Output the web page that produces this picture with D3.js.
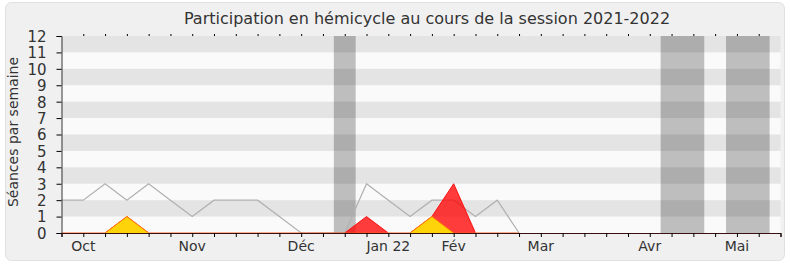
<!DOCTYPE html>
<html>
<head>
<meta charset="utf-8">
<script src="https://cdn.jsdelivr.net/npm/d3@7"></script>
<style>
  body { margin: 0; background: #fff; }
  text { font-family: "DejaVu Sans", sans-serif; fill: #333; }
</style>
</head>
<body>
<div id="chart"></div>
<script>
// Participation chart, one point per week of the session

var title = "Participation en hémicycle au cours de la session 2021-2022";
var yLabel = "Séances par semaine";

// week index of each month label
var monthLabels = ["Oct", "Nov", "Déc", "Jan 22", "Fév", "Mar", "Avr", "Mai"];
var monthWeeks = [1, 6, 11, 15, 18, 22, 27, 31];

// sessions held in the hemicycle (grey line), from week 0
var totalSessions = [2, 2, 3, 2, 3, 2, 1, 2, 2, 2, 1, 0, 0, 0, 3, 2, 1, 2, 2, 1, 2, 0];
// presences (red area)
var presences = [0, 0, 0, 1, 0, 0, 0, 0, 0, 0, 0, 0, 0, 0, 1, 0, 0, 1, 3, 0, 0, 0];
// interventions (yellow area)
var interventions = [0, 0, 0, 1, 0, 0, 0, 0, 0, 0, 0, 0, 0, 0, 0, 0, 0, 1, 0, 0, 0, 0];

// parliamentary holidays, [start, end] in weeks
var holidays = [[12.5, 13.5], [27.5, 29.5], [30.5, 32.5]];

var nWeeks = 33;
var yMax = 12;

var W = 790, H = 267;
var margin = {top: 36, right: 9.5, bottom: 34, left: 61.5},
  width = W - margin.left - margin.right,
  height = H - margin.top - margin.bottom;

var x = d3.scaleLinear().domain([0, nWeeks]).range([0, width]);
var y = d3.scaleLinear().domain([0, yMax]).range([height, 0]);

var svg = d3.select("#chart").append("svg")
  .attr("width", W)
  .attr("height", H);

// frame
svg.append("rect")
  .attr("x", 5.5).attr("y", 2.5)
  .attr("width", 779).attr("height", 258)
  .attr("rx", 6)
  .style("fill", "#f0f0f0")
  .attr("stroke", "#e0e0e0");

svg.append("text")
  .attr("x", 427).attr("y", 24)
  .style("text-anchor", "middle")
  .style("font-size", "16px")
  .text(title);

var g = svg.append("g")
  .attr("transform", "translate(" + margin.left + "," + margin.top + ")");

// keeps the area outlines off the baseline
g.append("clipPath")
  .attr("id", "above-zero")
  .append("rect")
    .attr("x", -2)
    .attr("y", -2)
    .attr("width", width + 4)
    .attr("height", height + 1.4);

g.append("rect")
  .attr("width", width)
  .attr("height", height)
  .style("fill", "#fafafa");

g.selectAll(".holiday")
  .data(holidays)
  .enter().append("rect")
    .attr("class", "holiday")
    .attr("x", d => x(d[0]))
    .attr("width", d => x(d[1]) - x(d[0]))
    .attr("y", 0)
    .attr("height", height)
    .style("fill", "#bebebe");

// dark stripes every other unit
g.selectAll(".stripe")
  .data(d3.range(1, yMax, 2))
  .enter().append("rect")
    .attr("class", "stripe")
    .attr("x", 0)
    .attr("width", width)
    .attr("y", d => y(d + 1))
    .attr("height", d => y(d) - y(d + 1))
    .style("fill", "rgba(0,0,0,0.085)");

var line = d3.line()
  .x((d, i) => x(i))
  .y(d => y(d));

g.append("path")
  .datum(totalSessions)
  .attr("d", line)
  .attr("fill", "none")
  .attr("stroke", "#b0b0b0")
  .attr("stroke-width", 1.2);

var area = d3.area()
  .x((d, i) => x(i))
  .y0(y(0))
  .y1(d => y(d));

function drawArea(data, fill, stroke) {
  g.append("path")
    .datum(data)
    .attr("d", area)
    .style("fill", fill);
  g.append("path")
    .datum(data)
    .attr("d", line)
    .attr("clip-path", "url(#above-zero)")
    .attr("fill", "none")
    .attr("stroke", stroke)
    .attr("stroke-width", 1);
}

drawArea(presences, "rgba(255,0,0,0.76)", "#ff1010");
drawArea(interventions, "#ffd30a", "#ff7a00");

// x axis, one tick per week
var xAxis = g.append("g")
  .attr("transform", "translate(0," + height + ")")
  .call(d3.axisBottom(x)
    .tickValues(d3.range(0, nWeeks + 1))
    .tickSize(4)
    .tickFormat(""));
xAxis.select(".domain").attr("stroke", "#3a0f0f");

g.append("g")
  .call(d3.axisTop(x)
    .tickValues(d3.range(1, nWeeks))
    .tickSize(2)
    .tickFormat(""))
  .call(a => a.select(".domain").remove());

g.selectAll(".month")
  .data(monthLabels)
  .enter().append("text")
    .attr("class", "month")
    .attr("x", (d, i) => x(monthWeeks[i]))
    .attr("y", height + 18)
    .style("text-anchor", "middle")
    .style("font-size", "14px")
    .text(d => d);

var yAxis = g.append("g")
  .call(d3.axisLeft(y)
    .ticks(yMax)
    .tickSize(5)
    .tickPadding(10));
yAxis.selectAll("text")
  .style("font-size", "15px")
  .style("fill", "#333")
  .attr("dy", "0.36em");
yAxis.select(".domain").attr("stroke", "#333");

svg.append("text")
  .attr("transform", "rotate(-90)")
  .attr("x", -132)
  .attr("y", 18)
  .style("text-anchor", "middle")
  .style("font-size", "14px")
  .text(yLabel);
</script>
</body>
</html>
